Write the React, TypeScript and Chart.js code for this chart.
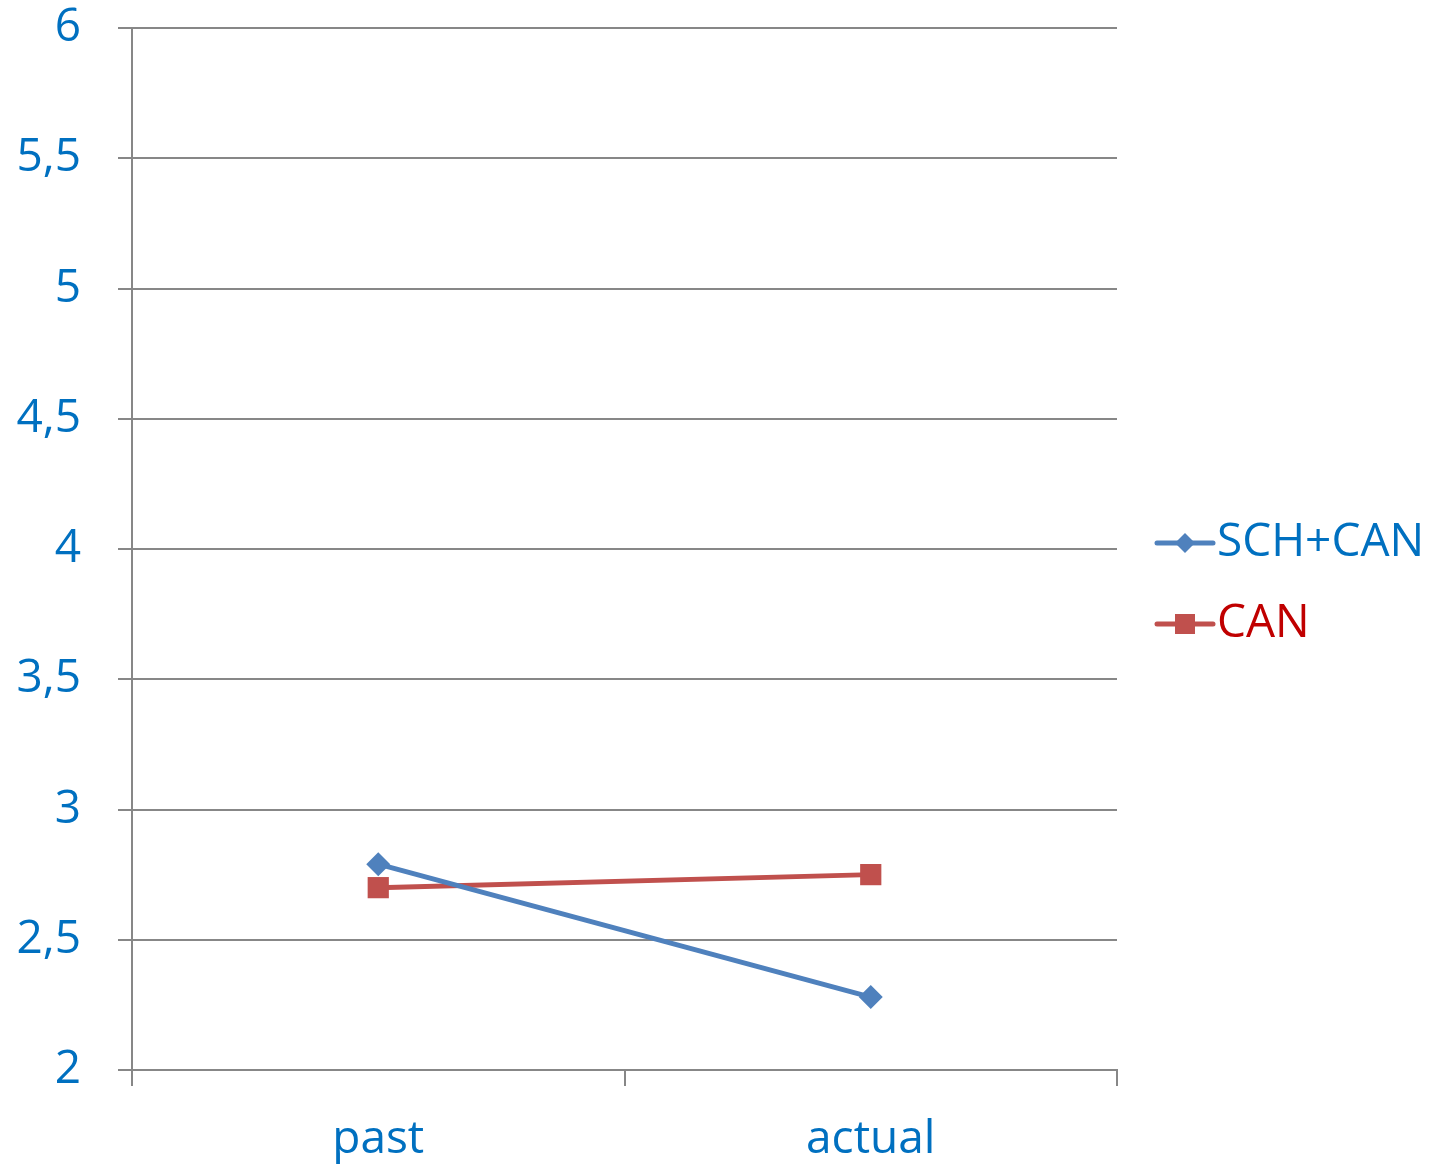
import React, { useEffect, useRef } from "react";
import { Chart, registerables } from "chart.js";

Chart.register(...registerables);

const categories = ["past", "actual"];
const seriesNames = ["SCH+CAN", "CAN"];
const schCanValues = [2.79, 2.28];
const canValues = [2.7, 2.75];
const lineColors = ["#4F81BD", "#C0504D"];
const legendTextColors = ["#0070C0", "#C00000"];
const pointStyles = ["rectRot", "rect"];
const pointRadii = [12, 15];

const FONT = "'Open Sans', 'Noto Sans', sans-serif";
const TICK_COLOR = "#0070C0";
const GRID_COLOR = "#878787";

const legendPlugin = {
  id: "sideLegend",
  afterDraw(chart: any) {
    const ctx = chart.ctx;
    const area = chart.chartArea;
    const x0 = area.right + 40;
    const lineLen = 56;
    const startY = 543;
    const gap = 81;
    chart.data.datasets.forEach((ds: any, i: number) => {
      const y = startY + i * gap;
      ctx.save();
      ctx.strokeStyle = ds.borderColor;
      ctx.lineWidth = 5;
      ctx.lineCap = "round";
      ctx.beginPath();
      ctx.moveTo(x0, y);
      ctx.lineTo(x0 + lineLen, y);
      ctx.stroke();
      const cx = x0 + lineLen / 2;
      ctx.fillStyle = ds.backgroundColor;
      ctx.beginPath();
      if (ds.pointStyle === "rectRot") {
        const r = 10;
        ctx.moveTo(cx, y - r);
        ctx.lineTo(cx + r, y);
        ctx.lineTo(cx, y + r);
        ctx.lineTo(cx - r, y);
        ctx.closePath();
      } else {
        const s = 10;
        ctx.rect(cx - s, y - s, 2 * s, 2 * s);
      }
      ctx.fill();
      ctx.font = `46px ${FONT}`;
      ctx.textBaseline = "middle";
      ctx.textAlign = "left";
      ctx.fillStyle = legendTextColors[i];
      ctx.fillText(ds.label, x0 + lineLen + 4, y);
      ctx.restore();
    });
  },
};

export default function App() {
  const ref = useRef<HTMLCanvasElement | null>(null);
  useEffect(() => {
    if (!ref.current) return;
    const values = [schCanValues, canValues];
    const chart = new Chart(ref.current, {
      type: "line",
      data: {
        labels: categories,
        datasets: seriesNames.map((name, i) => ({
          label: name,
          data: values[i],
          borderColor: lineColors[i],
          backgroundColor: lineColors[i],
          borderWidth: 5,
          pointStyle: pointStyles[i] as any,
          pointRadius: pointRadii[i],
          pointBorderWidth: 0,
          pointBackgroundColor: lineColors[i],
          tension: 0,
        })),
      },
      options: {
        responsive: false,
        animation: false,
        layout: { padding: { top: 28, right: 316, left: 0, bottom: 0 } },
        plugins: {
          legend: { display: false },
          tooltip: { enabled: false },
        },
        scales: {
          x: {
            type: "category",
            offset: true,
            grid: {
              offset: true,
              drawOnChartArea: false,
              drawTicks: true,
              tickLength: 16,
              color: GRID_COLOR,
              lineWidth: 2,
            },
            border: { display: true, color: GRID_COLOR, width: 2 },
            ticks: {
              color: TICK_COLOR,
              font: { family: FONT, size: 46 },
              padding: 26,
              maxRotation: 0,
            },
            afterFit(scale: any) {
              scale.height = 94;
              scale.paddingLeft = 0;
              scale.paddingRight = 0;
            },
          },
          y: {
            min: 2,
            max: 6,
            grid: {
              color: GRID_COLOR,
              lineWidth: 2,
              tickLength: 14,
              drawTicks: true,
            },
            border: { display: true, color: GRID_COLOR, width: 2 },
            ticks: {
              stepSize: 0.5,
              color: TICK_COLOR,
              font: { family: FONT, size: 46 },
              padding: 37,
              callback: (v: any) => String(v).replace(".", ","),
            },
            afterFit(scale: any) {
              scale.width = 132;
              scale.paddingTop = 0;
              scale.paddingBottom = 0;
            },
          },
        },
      },
      plugins: [legendPlugin],
    });
    return () => chart.destroy();
  }, []);
  return (
    <div style={{ position: "fixed", left: 0, top: 0, width: 1433, height: 1164, background: "#fff" }}>
      <canvas ref={ref} width={1433} height={1164} />
    </div>
  );
}
